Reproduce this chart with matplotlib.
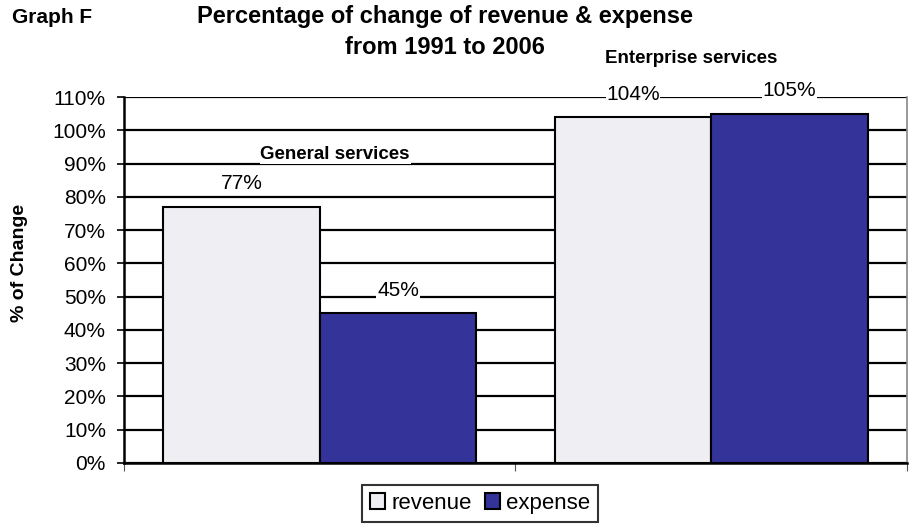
import numpy as np
import matplotlib
matplotlib.use("Agg")
import matplotlib.pyplot as plt

plt.rcParams['font.family'] = ['Liberation Sans', 'DejaVu Sans']

categories = ['General services', 'Enterprise services']
revenue = [77, 104]
expense = [45, 105]
yticks = list(range(0, 111, 10))

fig = plt.figure(figsize=(9.09, 5.25), dpi=100)
ax = fig.add_axes([0.1364, 0.1181, 0.8614, 0.6971])

x = np.arange(len(categories))
w = 0.4
b1 = ax.bar(x - w / 2, revenue, w, color='#eeeef3', edgecolor='black', linewidth=1.5, label='revenue', zorder=3)
b2 = ax.bar(x + w / 2, expense, w, color='#333399', edgecolor='black', linewidth=1.5, label='expense', zorder=3)

# value labels sit above each bar on a white patch that hides the gridline
for bars, vals in ((b1, revenue), (b2, expense)):
    for bar, v in zip(bars, vals):
        ax.annotate(f'{v}%', (bar.get_x() + bar.get_width() / 2, v),
                    xytext=(0, 16.5), textcoords='offset points',
                    ha='center', va='center', fontsize=15,
                    bbox=dict(facecolor='white', edgecolor='none', pad=0.5), zorder=4)

# group names
ax.text(0.039, 92.6, categories[0], ha='center', va='center', fontsize=13.5, fontweight='bold',
        bbox=dict(facecolor='white', edgecolor='none', pad=0.5), zorder=4)
ax.text(0.948, 121.7, categories[1], ha='center', va='center', fontsize=13.5, fontweight='bold',
        clip_on=False)

ax.set_xlim(-0.5, 1.5)
ax.set_ylim(0, 110)
ax.set_yticks(yticks)
ax.set_yticklabels([f'{t}%' for t in yticks], fontsize=15)
ax.yaxis.grid(True, color='black', linewidth=1.6, zorder=0)
ax.set_axisbelow(True)
ax.set_xticks([-0.5, 0.5, 1.5])
ax.set_xticklabels([])
ax.tick_params(axis='x', direction='out', length=6, color='#555555')
ax.tick_params(axis='y', direction='out', length=5, width=1.2, pad=8)

ax.spines['top'].set_visible(False)
ax.spines['left'].set_linewidth(1.8)
ax.spines['bottom'].set_linewidth(1.8)
ax.spines['right'].set_color('#888888')
ax.spines['right'].set_linewidth(1.2)

fig.text(0.021, 0.5, '% of Change', rotation=90, fontsize=14, fontweight='bold', ha='center', va='center')

fig.text(0.013, 0.956, 'Graph F', fontsize=15, fontweight='bold', va='baseline')
fig.text(0.489, 0.956, 'Percentage of change of revenue & expense', fontsize=17, fontweight='bold',
         ha='center', va='baseline')
fig.text(0.489, 0.898, 'from 1991 to 2006', fontsize=17, fontweight='bold', ha='center', va='baseline')

leg = fig.legend(handles=[b1, b2], loc='upper center', bbox_to_anchor=(0.528, 0.076), ncol=2, frameon=True,
                 fontsize=16, fancybox=False, edgecolor='black', handlelength=0.7, handleheight=0.7,
                 handletextpad=0.25, columnspacing=0.6, borderpad=0.35, borderaxespad=0)
leg.get_frame().set_linewidth(1.5)

fig.savefig('out.png', dpi=100)
